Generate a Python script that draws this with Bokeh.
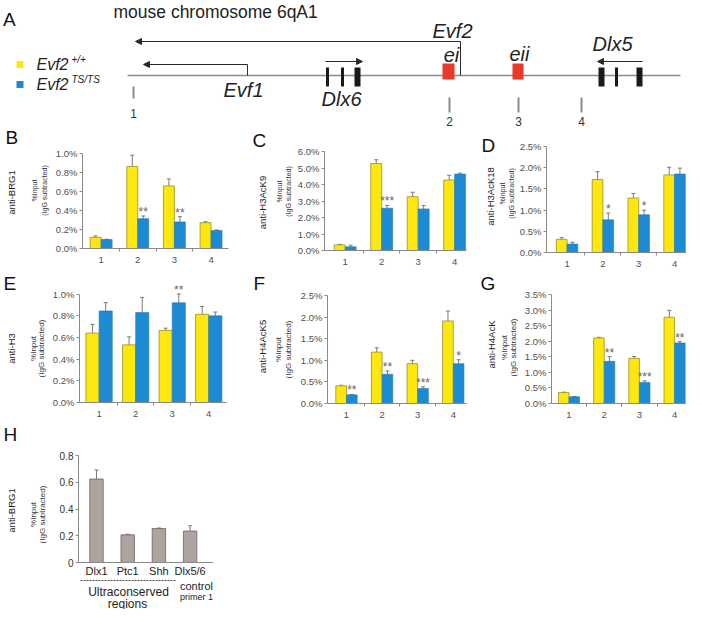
import numpy as np
from bokeh.plotting import figure
from bokeh.models import (Range1d, FixedTicker, PrintfTickFormatter, Whisker, TeeHead,
                          Label, LabelSet, ColumnDataSource, Arrow, NormalHead, Span)
from bokeh.layouts import column, row
from bokeh.core.properties import value
from bokeh.embed import file_html
from bokeh.resources import INLINE

FONT = "Liberation Sans"
YELLOW, YELLOW_LINE = "#fce80f", "#9c8f2c"
BLUE, BLUE_LINE = "#1c8bd3", "#2a78ad"
GRAY_BAR, GRAY_BAR_LINE = "#ada3a0", "#6b6361"
ERR = "#7a7a7a"
AXIS = "#8a8a8a"

# ---------------- data ----------------
primers = [1, 2, 3, 4]

brg1_wt = [0.118, 0.864, 0.659, 0.272]
brg1_wt_err = [0.014, 0.118, 0.073, 0.010]
brg1_ts = [0.094, 0.314, 0.280, 0.190]
brg1_ts_err = [0.003, 0.028, 0.055, 0.005]
brg1_sig = ["", "**", "**", ""]

h3k9_wt = [0.34, 5.27, 3.26, 4.27]
h3k9_wt_err = [0.03, 0.23, 0.27, 0.29]
h3k9_ts = [0.22, 2.56, 2.52, 4.63]
h3k9_ts_err = [0.10, 0.17, 0.20, 0.06]
h3k9_sig = ["", "***", "", ""]

h3k18_wt = [0.31, 1.72, 1.285, 1.83]
h3k18_wt_err = [0.04, 0.185, 0.106, 0.18]
h3k18_ts = [0.20, 0.77, 0.89, 1.85]
h3k18_ts_err = [0.04, 0.16, 0.11, 0.14]
h3k18_sig = ["", "*", "*", ""]

h3_wt = [0.641, 0.532, 0.666, 0.814]
h3_wt_err = [0.080, 0.074, 0.020, 0.073]
h3_ts = [0.845, 0.830, 0.920, 0.800]
h3_ts_err = [0.077, 0.140, 0.082, 0.035]
h3_sig = ["", "", "**", ""]

h4k5_wt = [0.408, 1.19, 0.923, 1.91]
h4k5_wt_err = [0.015, 0.10, 0.077, 0.23]
h4k5_ts = [0.20, 0.677, 0.346, 0.923]
h4k5_ts_err = [0.01, 0.077, 0.04, 0.09]
h4k5_sig = ["**", "**", "***", "*"]

h4ack_wt = [0.354, 2.105, 1.45, 2.77]
h4ack_wt_err = [0.01, 0.02, 0.06, 0.22]
h4ack_ts = [0.215, 1.353, 0.677, 1.944]
h4ack_ts_err = [0.01, 0.15, 0.05, 0.04]
h4ack_sig = ["", "**", "***", "**"]

uc_regions = ["Dlx1", "Ptc1", "Shh", "Dlx5/6"]
uc_brg1 = [0.624, 0.207, 0.254, 0.235]
uc_brg1_err = [0.068, 0.004, 0.004, 0.040]

# schematic map of mouse chromosome 6qA1 (schematic units)
chrom_span = [119, 672]
evf2_tss, evf2_end = 452, 127
evf1_tss, evf1_end = 239, 135
dlx6_exons = [319, 334, 349]
dlx6_exon_kind = ["thin", "thin", "thick"]
dlx6_dir = [317, 354]
dlx5_exons = [593, 608, 631]
dlx5_exon_kind = ["thick", "thin", "thick"]
dlx5_dir = [634, 589]
enhancers = [440, 509.5]
enhancer_names = ["ei", "eii"]
primer_pos = [125, 441, 510, 573]
primer_names = ["1", "2", "3", "4"]


def blank_fig(L, T, W, H):
    g = figure(width=W, height=H, output_backend="svg", toolbar_location=None,
               x_range=Range1d(L, L + W), y_range=Range1d(-(T + H), -T), min_border=0,
               x_axis_type=None, y_axis_type=None, frame_align=False)
    g.grid.visible = False
    g.outline_line_color = None
    return g


def gutter(L, T, W, H, letter, lpos, ylab, ypos, sub_pos, sub_size):
    g = blank_fig(L, T, W, H)
    g.text(x=[lpos[0]], y=[-lpos[1]], text=[letter], text_font=value(FONT),
           text_font_size="19px", text_baseline="middle", text_align="left", text_color="#111")
    g.text(x=[ypos[0]], y=[-ypos[1]], text=[ylab], text_font=value(FONT),
           text_font_size="9.5px", text_baseline="middle", text_align="center",
           text_color="#222", angle=np.pi / 2)
    s1x, s2x, sy = sub_pos
    g.text(x=[s1x, s2x], y=[-sy, -sy], text=["%Input", "(IgG subtracted)"], text_font=value(FONT),
           text_font_size=sub_size, text_baseline="middle", text_align="center",
           text_color="#333", angle=np.pi / 2)
    return g


def base_fig(L, T, W, H, FL, FR, FT, FB, c1, sp, ymax, y_lo=0.0, y_hi=None):
    if y_hi is None:
        y_hi = ymax
    ppu = (FB - FT) / ymax
    top = FB - y_hi * ppu
    bot = FB - y_lo * ppu
    xs = 1 - (c1 - FL) / sp
    xe = 1 + (FR - c1) / sp
    p = figure(width=W, height=H, output_backend="svg", toolbar_location=None,
               x_range=Range1d(xs, xe), y_range=Range1d(y_lo, y_hi),
               min_border_left=FL - L, min_border_right=L + W - FR,
               min_border_top=int(round(top - T)), min_border_bottom=int(round(T + H - bot)),
               frame_align=False)
    p.grid.visible = False
    p.outline_line_color = None
    p.axis.axis_line_color = AXIS
    p.axis.major_tick_line_color = AXIS
    p.axis.minor_tick_line_color = AXIS
    p.axis.major_label_text_font = FONT
    p.yaxis.major_tick_out = 3
    p.yaxis.major_tick_in = 0
    p.yaxis.minor_tick_line_color = None
    p.yaxis.major_label_standoff = 2
    p.yaxis.bounds = (0, ymax)
    p.xaxis.major_tick_out = 0
    p.xaxis.major_tick_in = 0
    p.xaxis.minor_tick_out = 3
    p.xaxis.minor_tick_in = 0
    return p


def add_whiskers(p, xs, vals, errs):
    src = ColumnDataSource(dict(x=list(xs),
                                lo=[v - e for v, e in zip(vals, errs)],
                                hi=[v + e for v, e in zip(vals, errs)]))
    p.add_layout(Whisker(source=src, base="x", lower="lo", upper="hi",
                         line_color=ERR, line_width=1,
                         lower_head=TeeHead(size=4, line_color=ERR, line_width=1),
                         upper_head=TeeHead(size=4, line_color=ERR, line_width=1)))


def bar_panel(geom, ymax, ystep, wt, wt_err, ts, ts_err, sig, bw, y_hi=None):
    L, T, W, H, FL, FR, FT, FB, c1, sp = geom
    p = base_fig(L, T, W, H, FL, FR, FT, FB, c1, sp, ymax, 0.0, y_hi)
    x = np.array(primers, dtype=float)
    p.vbar(x=x - bw / 2, top=wt, width=bw, fill_color=YELLOW, line_color=YELLOW_LINE, line_width=0.8)
    p.vbar(x=x + bw / 2, top=ts, width=bw, fill_color=BLUE, line_color=BLUE_LINE, line_width=0.6)
    add_whiskers(p, x - bw / 2, wt, wt_err)
    add_whiskers(p, x + bw / 2, ts, ts_err)
    idx = [i for i, s in enumerate(sig) if s]
    ssrc = ColumnDataSource(dict(x=[x[i] + bw / 2 for i in idx],
                                 y=[ts[i] + ts_err[i] for i in idx],
                                 t=[sig[i] for i in idx]))
    p.add_layout(LabelSet(x="x", y="y", text="t", source=ssrc, text_align="center",
                          text_baseline="alphabetic", text_font=value(FONT),
                          text_font_size="12px", text_color="#666666"))
    yt = [round(v, 3) for v in np.arange(0, ymax + 1e-9, ystep)]
    p.yaxis.ticker = FixedTicker(ticks=yt)
    p.yaxis.formatter = PrintfTickFormatter(format="%.1f%%")
    p.xaxis.ticker = FixedTicker(ticks=primers, minor_ticks=[1.5, 2.5, 3.5])
    p.axis.major_label_text_font_size = "9.5px"
    p.axis.major_label_text_color = "#505050"
    p.xaxis.major_label_standoff = 5
    return p


# ---------------- panel A ----------------
pa = figure(width=686, height=128, output_backend="svg", toolbar_location=None,
            x_range=Range1d(-8, 678), y_range=Range1d(0, 128), min_border=0,
            x_axis_type=None, y_axis_type=None, frame_align=False)
pa.grid.visible = False
pa.outline_line_color = None
CH_Y = 53
DARK = "#2a2a2a"
pa.segment(x0=[chrom_span[0]], y0=[CH_Y], x1=[chrom_span[1]], y1=[CH_Y], line_color="#8c8c8c", line_width=1.5)
pa.segment(x0=[evf2_tss, evf1_tss], y0=[CH_Y, CH_Y], x1=[evf2_tss, evf1_tss], y1=[87, 64],
           line_color=DARK, line_width=1)
arr_src = ColumnDataSource(dict(x0=[evf2_tss, evf1_tss, dlx6_dir[0], dlx5_dir[0]],
                                y0=[87, 64, 67, 67],
                                x1=[evf2_end, evf1_end, dlx6_dir[1], dlx5_dir[1]],
                                y1=[87, 64, 67, 67]))
pa.add_layout(Arrow(source=arr_src, x_start="x0", y_start="y0", x_end="x1", y_end="y1",
                    line_color=DARK, line_width=1,
                    end=NormalHead(size=6, fill_color=DARK, line_color=DARK, line_width=1)))
ex_x = dlx6_exons + dlx5_exons
ex_w = [3 if k == "thin" else 6 for k in dlx6_exon_kind + dlx5_exon_kind]
pa.rect(x=ex_x, y=[51.5] * 6, width=ex_w, height=19, fill_color="#1a1a1a", line_color=None)
pa.rect(x=enhancers, y=[57, 57], width=[12, 11], height=16, fill_color="#e8392b", line_color=None)
pa.segment(x0=primer_pos, y0=[42, 31, 31, 31], x1=primer_pos, y1=[30, 16, 16, 16],
           line_color="#8a8a8a", line_width=2)
pa.text(x=primer_pos, y=[15, 7, 7, 7], text=primer_names, text_font=value(FONT),
        text_font_size="12px", text_align="center", text_baseline="middle", text_color="#333")
pa.text(x=[444, 235, 333, 443, 511, 604], y=[98, 39, 30, 74, 75, 85],
        text=["Evf2", "Evf1", "Dlx6"] + enhancer_names + ["Dlx5"],
        text_font=value(FONT), text_font_size="20px", text_font_style="italic",
        text_align="center", text_baseline="middle", text_color="#222")
pa.text(x=[105], y=[117], text=["mouse chromosome 6qA1"], text_font=value(FONT),
        text_font_size="17.5px", text_baseline="middle", text_color="#222")
pa.text(x=[-5.5], y=[109], text=["A"], text_font=value(FONT), text_font_size="19px",
        text_baseline="middle", text_color="#111")
pa.rect(x=[11.5, 11.5], y=[64, 44], width=7, height=7, fill_color=[YELLOW, BLUE], line_color=None)
pa.text(x=[28, 28], y=[64, 44], text=["Evf2", "Evf2"], text_font=value(FONT),
        text_font_size="16px", text_font_style="italic", text_baseline="middle", text_color="#222")
pa.text(x=[63, 63], y=[69, 49], text=["+/+", "TS/TS"], text_font=value(FONT),
        text_font_size="10px", text_font_style="italic", text_baseline="middle", text_color="#222")

# ---------------- panels B-G ----------------
gb = gutter(0, 128, 52, 144, "B", (5, 137), "anti-BRG1", (11, 192), (34, 44, 190), "7px")
pb = bar_panel((52, 128, 186, 144, 79, 228, 153, 248, 98, 37.4), 1.0, 0.2,
               brg1_wt, brg1_wt_err, brg1_ts, brg1_ts_err, brg1_sig, 0.3)
gc = gutter(238, 128, 56, 144, "C", (252, 140), "anti-H3AcK9", (262, 202), (279, 288, 191), "7px")
pc = bar_panel((294, 128, 174, 144, 322, 466, 151, 250, 343, 37.0), 6.0, 1.0,
               h3k9_wt, h3k9_wt_err, h3k9_ts, h3k9_ts_err, h3k9_sig, 0.3)
gd = gutter(468, 128, 48, 144, "D", (481, 145), "anti-H3AcK18", (490, 196), (502, 511, 193), "7px")
pd = bar_panel((516, 128, 170, 144, 543, 686, 146, 252, 564, 36.6), 2.5, 0.5,
               h3k18_wt, h3k18_wt_err, h3k18_ts, h3k18_ts_err, h3k18_sig, 0.3)

ge = gutter(0, 272, 49, 152, "E", (3, 283), "anti-H3", (11, 348), (33, 41, 348), "8px")
pe = bar_panel((49, 272, 189, 152, 76, 226, 294, 402, 96, 37.3), 1.0, 0.2,
               h3_wt, h3_wt_err, h3_ts, h3_ts_err, h3_sig, 0.36, y_hi=1.08)
gf = gutter(238, 272, 58, 152, "F", (253, 283), "anti-H4AcK5", (262, 346), (278, 288, 349), "8px")
pf = bar_panel((296, 272, 172, 152, 327, 466, 295, 403, 346, 35.6), 2.5, 0.5,
               h4k5_wt, h4k5_wt_err, h4k5_ts, h4k5_ts_err, h4k5_sig, 0.3)
gg = gutter(468, 272, 50, 152, "G", (480, 283), "anti-H4AcK", (491, 344), (504, 513, 347), "8px")
pg = bar_panel((518, 272, 168, 152, 551, 686, 294, 403, 568.5, 35.2), 3.5, 0.5,
               h4ack_wt, h4ack_wt_err, h4ack_ts, h4ack_ts_err, h4ack_sig, 0.3)

# ---------------- panel H ----------------
gh = gutter(0, 424, 50, 185, "H", (3, 434), "anti-BRG1", (11, 510), (33, 42, 514), "8px")
L, T, W, H, FL, FR, FT, FB0, c1, sp = (50, 424, 636, 185, 78, 213, 455, 562, 96, 31.2)
FB = 609
y_lo = -(FB - FB0) / ((FB0 - FT) / 0.8)
ph = base_fig(L, T, W, H, FL, FR, FT, FB0, c1, sp, 0.8, y_lo, 0.8)
ph.xaxis.visible = False
hx = np.arange(1, len(uc_regions) + 1, dtype=float)
ph.add_layout(Span(location=0, dimension="width", line_color=AXIS, line_width=1))
ph.vbar(x=hx, top=uc_brg1, width=0.43, fill_color=GRAY_BAR, line_color=GRAY_BAR_LINE, line_width=0.8)
add_whiskers(ph, hx, uc_brg1, uc_brg1_err)
ph.text(x=hx, y=[0] * len(hx), text=uc_regions, y_offset=8, text_font=value(FONT),
        text_font_size="11px", text_align="center", text_baseline="middle", text_color="#222")
ph.yaxis.ticker = FixedTicker(ticks=[0, 0.2, 0.4, 0.6, 0.8])
ph.yaxis.formatter = PrintfTickFormatter(format="%.1f")
ph.yaxis.major_label_overrides = {0: "0"}
ph.yaxis.major_label_text_font_size = "10px"
ph.yaxis.major_label_text_color = "#333"


def hnote(x, y, text, size):
    ph.add_layout(Label(x=x - FL, y=FB - y, x_units="screen", y_units="screen", text=text,
                        text_font=FONT, text_font_size=size, text_color="#222",
                        text_align="center", text_baseline="middle"))


ph.add_layout(Arrow(end=None, x_start=80 - FL, y_start=FB - 580, x_end=175 - FL, y_end=FB - 580,
                    start_units="screen", end_units="screen", line_color="#444",
                    line_width=1, line_dash="2 1"))
hnote(128, 591, "Ultraconserved", "12px")
hnote(127, 603, "regions", "12px")
hnote(196, 585, "control", "11px")
hnote(196, 596, "primer 1", "9px")

layout = column(pa, row(gb, pb, gc, pc, gd, pd), row(ge, pe, gf, pf, gg, pg), row(gh, ph))
open("out.html", "w").write(file_html(layout, INLINE))
